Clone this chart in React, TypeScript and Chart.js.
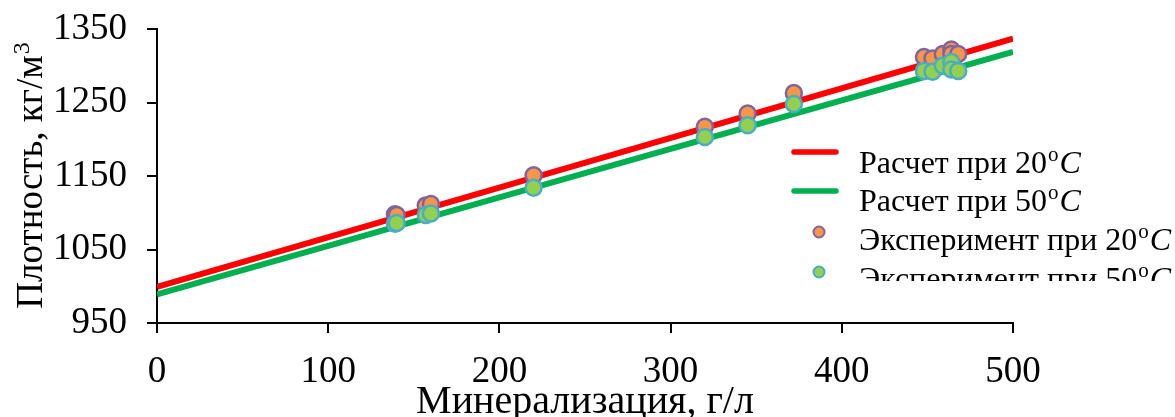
import React, { useEffect, useRef } from 'react';
import { Chart, registerables } from 'chart.js';

Chart.register(...registerables);

// ---- data ----
const calcX = [0, 500];
const calc20 = [999, 1337];
const calc50 = [989, 1319];

const expX = [139, 140, 157, 160, 220, 320, 345, 372, 448, 453, 459, 464, 464, 468];
const exp20 = [1098, 1097, 1110, 1112, 1151, 1217, 1235, 1263, 1312, 1310, 1316, 1322, 1316, 1316];
const exp50 = [1085, 1086, 1097, 1099, 1134, 1203, 1219, 1248, 1293, 1292, 1300, 1305, 1295, 1293];

const xTicks = [0, 100, 200, 300, 400, 500];
const yTicks = [950, 1050, 1150, 1250, 1350];

const xTitle = 'Минерализация, г/л';
const yTitle = 'Плотность, кг/м';
const yTitleSup = '3';
const legendNames = ['Расчет при 20', 'Расчет при 50', 'Эксперимент при 20', 'Эксперимент при 50'];
const degreeSup = 'o';
const degreeUnit = 'C';

// ---- styles ----
const FONT = "'Liberation Serif', 'Times New Roman', serif";
const RED = '#FF0000';
const GREEN = '#00B050';
const ORANGE = '#F79646';
const PURPLE = '#8064A2';
const LGREEN = '#92D050';
const BLUE = '#4BACC6';

const overlayPlugin = {
  id: 'overlay',
  afterDraw(chart: any) {
    const ctx: CanvasRenderingContext2D = chart.ctx;
    const area = chart.chartArea;
    ctx.save();
    ctx.fillStyle = '#000';
    ctx.textBaseline = 'alphabetic';

    // x title
    ctx.font = `40px ${FONT}`;
    ctx.textAlign = 'center';
    ctx.fillText(xTitle, (area.left + area.right) / 2, 413);

    // y title
    ctx.save();
    ctx.translate(42, (area.top + area.bottom) / 2);
    ctx.rotate(-Math.PI / 2);
    ctx.textAlign = 'left';
    ctx.font = `37px ${FONT}`;
    const w1 = ctx.measureText(yTitle).width;
    ctx.font = `24px ${FONT}`;
    const w2 = ctx.measureText(yTitleSup).width;
    const start = -(w1 + w2) / 2;
    ctx.font = `37px ${FONT}`;
    ctx.fillText(yTitle, start, 0);
    ctx.font = `24px ${FONT}`;
    ctx.fillText(yTitleSup, start + w1 + 1, -13);
    ctx.restore();

    // legend
    ctx.save();
    ctx.beginPath();
    ctx.rect(770, 125, 405, 156);
    ctx.clip();
    const markerY = [152, 191, 232, 272];
    const baseY = [173, 211, 250, 289];
    for (let i = 0; i < legendNames.length; i++) {
      const my = markerY[i];
      if (i < 2) {
        ctx.strokeStyle = i === 0 ? RED : GREEN;
        ctx.lineWidth = 5.5;
        ctx.lineCap = 'round';
        ctx.beginPath();
        ctx.moveTo(794, my);
        ctx.lineTo(836, my);
        ctx.stroke();
      } else {
        ctx.fillStyle = i === 2 ? ORANGE : LGREEN;
        ctx.strokeStyle = i === 2 ? PURPLE : BLUE;
        ctx.lineWidth = 2;
        ctx.beginPath();
        ctx.arc(819, my, 5.5, 0, Math.PI * 2);
        ctx.fill();
        ctx.stroke();
      }
      ctx.fillStyle = '#000';
      ctx.textAlign = 'left';
      let x = 859;
      const by = baseY[i];
      ctx.font = `32px ${FONT}`;
      ctx.fillText(legendNames[i], x, by);
      x += ctx.measureText(legendNames[i]).width + 1;
      ctx.font = `21px ${FONT}`;
      ctx.fillText(degreeSup, x, by - 12);
      x += ctx.measureText(degreeSup).width + 1;
      ctx.font = `italic 32px ${FONT}`;
      ctx.fillText(degreeUnit, x, by);
    }
    ctx.restore();

    ctx.restore();
  },
};

export default function App() {
  const ref = useRef<HTMLCanvasElement>(null);

  useEffect(() => {
    if (!ref.current) return;
    const chart = new Chart(ref.current, {
      type: 'scatter',
      data: {
        datasets: [
          {
            label: legendNames[3],
            data: expX.map((x, i) => ({ x, y: exp50[i] })),
            backgroundColor: LGREEN,
            borderColor: BLUE,
            borderWidth: 2.5,
            pointRadius: 8,
            showLine: false,
            order: 0,
          },
          {
            label: legendNames[2],
            data: expX.map((x, i) => ({ x, y: exp20[i] })),
            backgroundColor: ORANGE,
            borderColor: PURPLE,
            borderWidth: 2.5,
            pointRadius: 8,
            showLine: false,
            order: 1,
          },
          {
            label: legendNames[1],
            data: calcX.map((x, i) => ({ x, y: calc50[i] })),
            borderColor: GREEN,
            backgroundColor: GREEN,
            borderWidth: 6,
            pointRadius: 0,
            showLine: true,
            order: 2,
          },
          {
            label: legendNames[0],
            data: calcX.map((x, i) => ({ x, y: calc20[i] })),
            borderColor: RED,
            backgroundColor: RED,
            borderWidth: 6,
            pointRadius: 0,
            showLine: true,
            order: 3,
          },
        ],
      },
      options: {
        responsive: false,
        animation: false,
        events: [],
        layout: { padding: { left: 0, top: 29, right: 162, bottom: 0 } },
        plugins: {
          legend: { display: false },
          tooltip: { enabled: false },
        },
        scales: {
          x: {
            type: 'linear',
            min: 0,
            max: 500,
            afterFit: (s: any) => { s.height = 94; s.paddingLeft = 0; s.paddingRight = 0; },
            afterBuildTicks: (s: any) => { s.ticks = xTicks.map((v) => ({ value: v })); },
            border: { display: true, color: '#000', width: 2 },
            grid: { drawOnChartArea: false, color: '#000', lineWidth: 2, tickLength: 10 },
            ticks: {
              color: '#000',
              font: { family: FONT, size: 37 },
              padding: 17,
              maxRotation: 0,
              callback: (v: any) => String(v),
            },
          },
          y: {
            type: 'linear',
            min: 950,
            max: 1350,
            afterFit: (s: any) => { s.width = 157; s.paddingTop = 0; s.paddingBottom = 0; },
            afterBuildTicks: (s: any) => { s.ticks = yTicks.map((v) => ({ value: v })); },
            border: { display: true, color: '#000', width: 2 },
            grid: { drawOnChartArea: false, color: '#000', lineWidth: 2, tickLength: 10 },
            ticks: {
              color: '#000',
              font: { family: FONT, size: 37 },
              padding: 20,
              callback: (v: any) => String(v),
            },
          },
        },
      },
      plugins: [overlayPlugin],
    });
    return () => chart.destroy();
  }, []);

  return (
    <canvas
      ref={ref}
      width={1175}
      height={417}
      style={{ position: 'absolute', left: 0, top: 0, width: 1175, height: 417 }}
    />
  );
}
